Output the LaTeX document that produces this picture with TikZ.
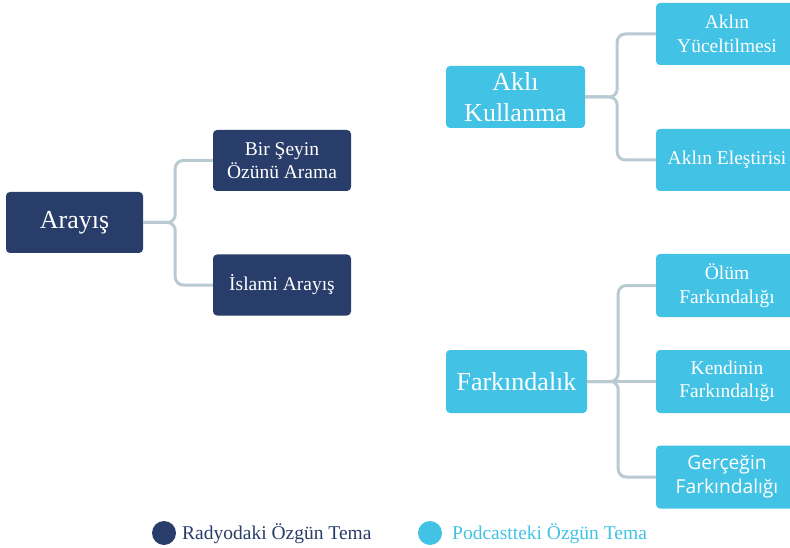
\documentclass[tikz,border=0pt]{standalone}
\usepackage{fontspec}
\setmainfont{Liberation Serif}
\newfontfamily\opensans{Open Sans}
\definecolor{navy}{HTML}{293D6A}
\definecolor{cyanb}{HTML}{42C2E5}
\definecolor{conn}{HTML}{B9CAD2}
\tikzset{
  base/.style={rounded corners=4pt, text=white, align=center, inner sep=0pt},
  big/.style={base, font=\fontsize{26}{31}\selectfont},
  small/.style={base, font=\fontsize{19.5}{23.5}\selectfont},
  dark/.style={fill=navy},
  light/.style={fill=cyanb},
  connl/.style={draw=conn, line width=3pt, rounded corners=8pt},
}
\begin{document}
\begin{tikzpicture}[x=1pt,y=-1pt]
\useasboundingbox (0,0) rectangle (790,548);
\clip (0,0) rectangle (790,548);
% left group
\node[big,dark,minimum width=137pt,minimum height=61pt] (arayis) at (74.5,222.5) {Arayış};
\node[small,dark,minimum width=138pt,minimum height=61pt] (bir) at (282,160.5) {Bir Şeyin\\Özünü Arama};
\node[small,dark,minimum width=138pt,minimum height=61pt] (islami) at (282,285) {İslami Arayış};
% right upper
\node[big,light,minimum width=139pt,minimum height=62pt] (akli) at (515.5,97) {Aklı\\Kullanma};
\node[small,light,minimum width=142pt,minimum height=62pt] (yuce) at (727,34) {Aklın\\Yüceltilmesi};
\node[small,light,minimum width=142pt,minimum height=62pt] (eles) at (727,160) {Aklın Eleştirisi};
% right lower
\node[big,light,minimum width=141pt,minimum height=63pt] (fark) at (516.5,381.5) {Farkındalık};
\node[small,light,minimum width=142pt,minimum height=63pt] (olum) at (727,285.5) {Ölüm\\Farkındalığı};
\node[small,light,minimum width=142pt,minimum height=63pt] (kend) at (727,381.5) {Kendinin\\Farkındalığı};
\node[small,light,minimum width=142pt,minimum height=63pt,font=\opensans\fontsize{19.2}{24}\selectfont] (gerc) at (727,477) {Gerçeğin\\Farkındalığı};
% connectors
\draw[connl] (arayis.east) -- ++(32,0) |- (bir.west);
\draw[connl] (arayis.east) -- ++(32,0) |- (islami.west);
\draw[connl] (akli.east) -- ++(32,0) |- (yuce.west);
\draw[connl] (akli.east) -- ++(32,0) |- (eles.west);
\draw[connl] (fark.east) -- ++(31,0) |- (olum.west);
\draw[connl] (fark.east) -- (kend.west);
\draw[connl] (fark.east) -- ++(31,0) |- (gerc.west);
% legend
\fill[navy] (164,533) circle (12pt) coordinate (c1);
\node[anchor=west, text=navy, font=\fontsize{19.5}{23}\selectfont, inner sep=0pt] (l1) at (182,534) {Radyodaki Özgün Tema};
\fill[cyanb] (430,533) circle (12pt) coordinate (c2);
\node[anchor=west, text=cyanb, font=\fontsize{19.5}{23}\selectfont, inner sep=0pt] (l2) at (452,534) {Podcastteki Özgün Tema};
\end{tikzpicture}
\end{document}
